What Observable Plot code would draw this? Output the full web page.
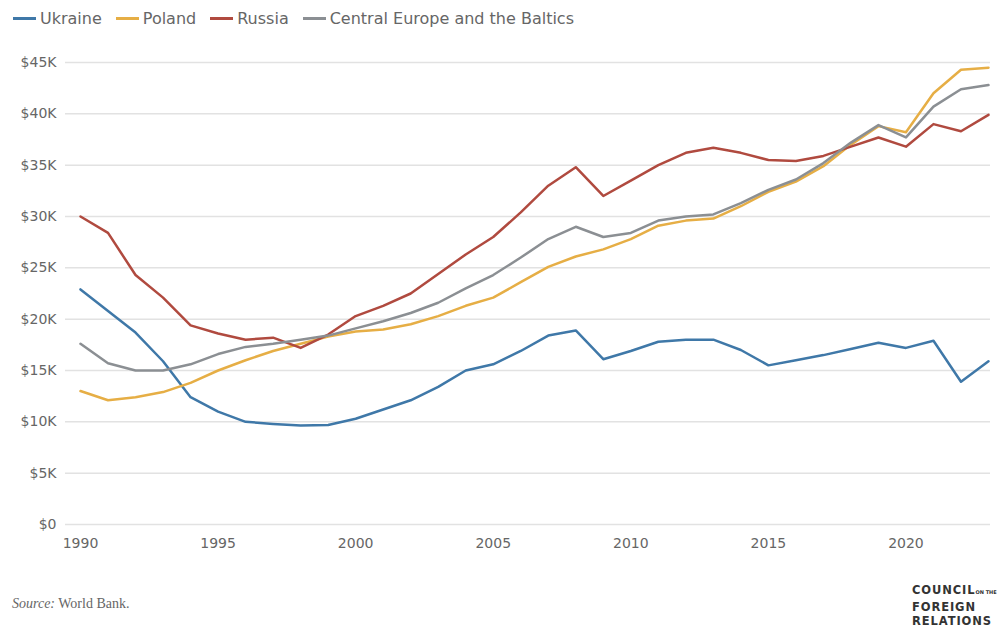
<!DOCTYPE html>
<html>
<head>
<meta charset="utf-8">
<script src="https://cdn.jsdelivr.net/npm/d3@7"></script>
<script src="https://cdn.jsdelivr.net/npm/@observablehq/plot@0.6"></script>
<style>
  html, body { margin: 0; padding: 0; background: #fff; width: 1003px; height: 628px; overflow: hidden; }
  body { position: relative; font-family: "DejaVu Sans", sans-serif; }
  #legend { position: absolute; left: 13px; top: 9px; display: flex; align-items: center; font-size: 16px; color: #666; white-space: nowrap; }
  .item { display: flex; align-items: center; margin-right: 14px; }
  .sw { width: 23px; height: 2.5px; margin-right: 4px; }
  #chart { position: absolute; left: 0; top: 40px; }
  #source { position: absolute; left: 12px; top: 596px; font-family: "Liberation Serif", "DejaVu Serif", serif; font-size: 14px; color: #666; }
  #logo { position: absolute; left: 912px; top: 583px; font-family: "DejaVu Sans", Roboto, sans-serif; font-weight: bold; font-size: 11.5px; line-height: 14.5px; letter-spacing: 0.9px; color: #333; }
  #logo small { font-size: 5px; letter-spacing: 0; vertical-align: baseline; }
</style>
</head>
<body>
<div id="legend"></div>
<div id="chart"></div>
<div id="source"><i>Source:</i> World Bank.</div>
<div id="logo">COUNCIL<small>ON THE</small><br>FOREIGN<br>RELATIONS</div>
<script>
const years = d3.range(1990, 2024);
const seriesNames = ["Ukraine", "Poland", "Russia", "Central Europe and the Baltics"];
const seriesColors = ["#3f78a8", "#e6ae45", "#b04a3f", "#8b8f93"];

// GDP per capita, PPP (thousands of dollars), 1990–2023
const ukraine = [22.9, 20.8, 18.7, 15.9, 12.4, 11.0, 10.0, 9.8, 9.65, 9.7,
  10.3, 11.2, 12.1, 13.4, 15.0, 15.6, 16.9, 18.4, 18.9, 16.1,
  16.9, 17.8, 18.0, 18.0, 17.0, 15.5, 16.0, 16.5, 17.1, 17.7,
  17.2, 17.9, 13.9, 15.9];
const poland = [13.0, 12.1, 12.4, 12.9, 13.8, 15.0, 16.0, 16.9, 17.6, 18.3,
  18.8, 19.0, 19.5, 20.3, 21.3, 22.1, 23.6, 25.1, 26.1, 26.8,
  27.8, 29.1, 29.6, 29.8, 31.0, 32.4, 33.4, 34.9, 37.0, 38.8,
  38.2, 42.0, 44.3, 44.5];
const russia = [30.0, 28.4, 24.3, 22.1, 19.4, 18.6, 18.0, 18.2, 17.2, 18.5,
  20.3, 21.3, 22.5, 24.4, 26.3, 28.0, 30.4, 33.0, 34.8, 32.0,
  33.5, 35.0, 36.2, 36.7, 36.2, 35.5, 35.4, 35.9, 36.8, 37.7,
  36.8, 39.0, 38.3, 39.9];
const centralEurope = [17.6, 15.7, 15.0, 15.0, 15.6, 16.6, 17.3, 17.6, 18.0, 18.4,
  19.1, 19.8, 20.6, 21.6, 23.0, 24.3, 26.0, 27.8, 29.0, 28.0,
  28.4, 29.6, 30.0, 30.2, 31.3, 32.6, 33.6, 35.2, 37.2, 38.9,
  37.7, 40.7, 42.4, 42.8];

const xTicks = [1990, 1995, 2000, 2005, 2010, 2015, 2020];
const yTicks = [0, 5, 10, 15, 20, 25, 30, 35, 40, 45];

const allSeries = [ukraine, poland, russia, centralEurope];
const data = [];
allSeries.forEach((vals, i) => {
  vals.forEach((v, j) => data.push({year: years[j], value: v, series: seriesNames[i]}));
});

// legend
const legend = document.getElementById("legend");
seriesNames.forEach((n, i) => {
  const it = document.createElement("div");
  it.className = "item";
  it.innerHTML = `<span class="sw" style="background:${seriesColors[i]}"></span><span>${n}</span>`;
  legend.appendChild(it);
});

const chart = Plot.plot({
  width: 1003,
  height: 540,
  marginLeft: 80,
  marginRight: 15,
  marginTop: 22,
  marginBottom: 56,
  style: {fontFamily: "'DejaVu Sans', sans-serif", fontSize: "14px", color: "#666", background: "transparent"},
  x: {domain: [1990, 2023], ticks: xTicks, tickFormat: d => String(d), label: null, tickSize: 0, tickPadding: 14},
  y: {domain: [0, 45], ticks: yTicks, tickFormat: d => d === 0 ? "$0" : `$${d}K`, label: null, tickSize: 0, tickPadding: 24},
  color: {domain: seriesNames, range: seriesColors},
  marks: [
    Plot.ruleY(yTicks, {stroke: "#e2e2e2", strokeWidth: 1.5, insetLeft: -15, insetRight: -2}),
    Plot.axisX({ticks: xTicks, tickFormat: d => String(d), tickSize: 0, tickPadding: 14, fill: "#666"}),
    Plot.axisY({ticks: yTicks, tickFormat: d => d === 0 ? "$0" : `$${d}K`, tickSize: 0, tickPadding: 24, fill: "#666"}),
    Plot.lineY(data, {x: "year", y: "value", z: "series", stroke: "series", strokeWidth: 2.5, strokeLinejoin: "round", strokeLinecap: "round"})
  ]
});
document.getElementById("chart").appendChild(chart);
</script>
</body>
</html>
